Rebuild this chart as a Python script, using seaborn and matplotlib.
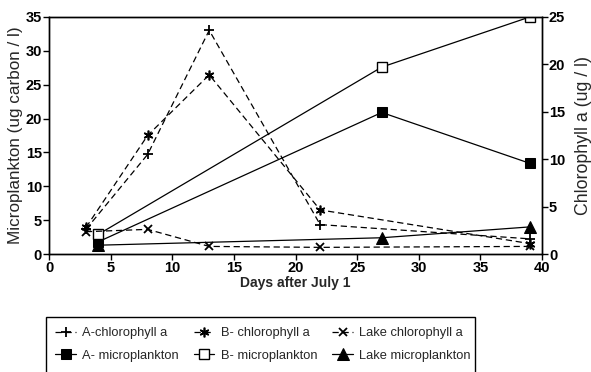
import matplotlib
matplotlib.use("Agg")
import matplotlib.pyplot as plt
import seaborn as sns
import pandas as pd
from matplotlib.patches import Rectangle

# ---- data ----
days_chl = [3, 8, 13, 22, 39]
a_chl = [2.6, 10.5, 23.6, 3.1, 1.6]
b_chl = [2.8, 12.5, 18.9, 4.65, 1.1]
lake_chl = [2.35, 2.6, 0.8, 0.7, 0.8]

days_micro = [4, 27, 39]
a_micro = [1.8, 20.9, 13.4]
b_micro = [2.9, 27.6, 35.0]
lake_micro = [1.3, 2.4, 4.0]

x_ticks = [0, 5, 10, 15, 20, 25, 30, 35, 40]
left_ticks = [0, 5, 10, 15, 20, 25, 30, 35]
right_ticks = [0, 5, 10, 15, 20, 25]

sns.set_style("ticks")
plt.rcParams['font.family'] = ['Liberation Sans', 'DejaVu Sans']

fig = plt.figure(figsize=(5.91, 3.72), dpi=100)
ax = fig.add_axes([49/591, 1-254/372, (542-49)/591, (254-17)/372])
ax2 = ax.twinx()

lw = 0.9
dash = (5, 3)
# microplankton on left axis
sns.lineplot(x=days_micro, y=a_micro, ax=ax, color='k', lw=lw, marker='s', markersize=7,
             markerfacecolor='k', markeredgecolor='k', label='A- microplankton', legend=False)
sns.lineplot(x=days_micro, y=b_micro, ax=ax, color='k', lw=lw, marker='s', markersize=7,
             markerfacecolor='white', markeredgecolor='k', markeredgewidth=1.0,
             label='B- microplankton', legend=False)
sns.lineplot(x=days_micro, y=lake_micro, ax=ax, color='k', lw=lw, marker='^', markersize=8,
             markerfacecolor='k', markeredgecolor='k', label='Lake microplankton', legend=False)

# chlorophyll on right axis
sns.lineplot(x=days_chl, y=a_chl, ax=ax2, color='k', lw=lw, linestyle='--', dashes=False,
             marker='+', markersize=7, markeredgewidth=1.3, markeredgecolor='k',
             label='A-chlorophyll a', legend=False)
sns.lineplot(x=days_chl, y=b_chl, ax=ax2, color='k', lw=lw, linestyle='--', dashes=False,
             marker=(6, 2, 0), markersize=7, markeredgewidth=1.2, markeredgecolor='k',
             label='B- chlorophyll a', legend=False)
sns.lineplot(x=days_chl, y=lake_chl, ax=ax2, color='k', lw=lw, linestyle='--', dashes=False,
             marker='x', markersize=6, markeredgewidth=1.3, markeredgecolor='k',
             label='Lake chlorophyll a', legend=False)
for ln in ax2.get_lines():
    ln.set_dashes(dash)

ax.set_xlim(0, 40)
ax.set_ylim(0, 35)
ax2.set_ylim(0, 25)
ax.set_xticks(x_ticks)
ax.set_yticks(left_ticks)
ax2.set_yticks(right_ticks)

tick_font = dict(fontsize=10.5, fontweight='bold')
ax.set_xticklabels([str(t) for t in x_ticks], **tick_font)
ax.set_yticklabels([str(t) for t in left_ticks], **tick_font)
ax2.set_yticklabels([str(t) for t in right_ticks], **tick_font)

for a in (ax, ax2):
    for s in a.spines.values():
        s.set_color('k')
        s.set_linewidth(1.0)
    a.tick_params(colors='k', length=4, width=1.0, pad=1)

ax.set_xlabel('Days after July 1', fontsize=10, fontweight='bold', labelpad=1)
ax.set_ylabel('Microplankton (ug carbon / l)', fontsize=12.3, labelpad=2)
ax2.set_ylabel('Chlorophyll a (ug / l)', fontsize=12.8, labelpad=7)

# legend
h_chl = ax2.get_lines()
h_mic = ax.get_lines()
handles = [h_chl[0], h_mic[0], h_chl[1], h_mic[1], h_chl[2], h_mic[2]]
labels = [h.get_label() for h in handles]
leg = fig.legend(handles, labels, ncol=3, loc='upper left',
                 bbox_to_anchor=(50/591, 1-322/372), frameon=False,
                 fontsize=9.3, handlelength=1.6, handletextpad=0.5,
                 columnspacing=1.15, labelspacing=0.8, borderaxespad=0)
fig.patches.append(Rectangle((46/591, -0.05), (475-46)/591, 0.05 + (372-317)/372,
                             transform=fig.transFigure, fill=False, edgecolor='k',
                             linewidth=1.0))

fig.savefig('out.png', dpi=100)
